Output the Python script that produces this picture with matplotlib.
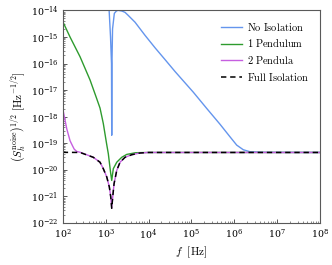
import numpy as np
import matplotlib
matplotlib.use("Agg")
import matplotlib.pyplot as plt
from matplotlib.ticker import LogLocator, NullFormatter

plt.rcParams['mathtext.fontset'] = 'cm'
plt.rcParams['font.family'] = 'serif'

# ---- data ----
f_none = [100, 1000, 1200, 1300, 1370, 1387, 1405, 1450, 1596, 1800, 1977, 2400, 2833,
          3380, 4845, 8280, 1.42e4, 2.43e4, 4.15e4, 1.11e5, 2.27e5, 4.64e5, 7.94e5,
          1.14e6, 1.62e6, 2.32e6, 5e6, 1e8]
s_none = [1e-10, 5e-14, 1.2e-14, 1e-15, 1e-16, 2e-19, 1e-16, 2e-15, 7.7e-15, 9.6e-15, 1e-14,
          9.4e-15, 8.4e-15, 6.4e-15, 3.58e-15, 1.15e-15, 3.9e-16, 1.4e-16, 5.0e-17, 8.3e-18,
          2.05e-18, 5.2e-19, 1.75e-19, 8.5e-20, 5.7e-20, 4.8e-20, 4.55e-20, 4.5e-20]

f_one = [100, 148, 253, 433, 600, 740, 883, 968, 1060, 1156, 1250, 1315, 1387, 1510, 1815,
         2373, 3100, 5000, 1e4, 1e8]
s_one = [3.8e-15, 9.9e-16, 1.8e-16, 2.4e-17, 5.5e-18, 2.1e-18, 5.5e-19, 2.2e-19, 9e-20,
         4.0e-20, 1.4e-20, 7.2e-21, 4e-21, 1.1e-20, 1.93e-20, 2.96e-20, 3.8e-20, 4.4e-20,
         4.5e-20, 4.5e-20]

f_full = [100, 253, 516, 740, 883, 1062, 1219, 1315, 1387, 1465, 1572, 1815, 2168, 2833,
          4055, 6300, 1e4, 1e8]
s_full = [4.55e-20, 4.5e-20, 2.96e-20, 1.93e-20, 1.1e-20, 5.4e-21, 2.28e-21, 9.7e-22,
          3.6e-22, 9.7e-22, 3.0e-21, 9.5e-21, 1.93e-20, 2.96e-20, 3.7e-20, 4.3e-20,
          4.5e-20, 4.5e-20]

f_two = [100, 124, 148, 169, 185, 212, 253, 516, 740, 883, 1062, 1219, 1315, 1387, 1465,
         1572, 1815, 2168, 2833, 4055, 6300, 1e4, 1e8]
s_two = [2.0e-18, 3.5e-19, 1.24e-19, 8e-20, 6e-20, 4.9e-20, 4.6e-20, 2.96e-20, 1.93e-20,
         1.1e-20, 5.4e-21, 2.28e-21, 9.7e-22, 3.6e-22, 9.7e-22, 3.0e-21, 9.5e-21, 1.93e-20,
         2.96e-20, 3.7e-20, 4.3e-20, 4.5e-20, 4.5e-20]

labels = [r'$\mathrm{No\ Isolation}$', r'$\mathrm{1\ Pendulum}$',
          r'$\mathrm{2\ Pendula}$', r'$\mathrm{Full\ Isolation}$']

fig = plt.figure(figsize=(3.32, 2.65), dpi=100)
ax = fig.add_axes([0.189, 0.1585, 0.775, 0.8025])

ax.loglog(f_none, s_none, color='#6495ED', lw=1.0, label=labels[0])
ax.loglog(f_one, s_one, color='#2E9B2E', lw=1.0, label=labels[1])
ax.loglog(f_two, s_two, color='#C65FE0', lw=1.0, label=labels[2])
ax.loglog(f_full, s_full, color='black', lw=1.1, ls=(0, (3.5, 2.5)), label=labels[3])

ax.set_xlim(1e2, 1e8)
ax.set_ylim(1e-22, 1e-14)

ax.xaxis.set_major_locator(LogLocator(base=10, numticks=20))
ax.yaxis.set_major_locator(LogLocator(base=10, numticks=20))
for a in (ax.xaxis, ax.yaxis):
    a.set_minor_locator(LogLocator(base=10, subs=np.arange(2, 10), numticks=100))
    a.set_minor_formatter(NullFormatter())

ax.tick_params(which='both', direction='in', top=False, right=False, color='0.35',
               labelsize=6.8, pad=3)
ax.tick_params(which='major', length=3, width=0.7)
ax.tick_params(which='minor', length=1.6, width=0.5)
for s in ax.spines.values():
    s.set_color('0.35')
    s.set_linewidth(0.8)

ax.set_xlabel(r'$f\ \ [\mathrm{Hz}]$', fontsize=8, labelpad=2)
ax.set_ylabel(r'$\left(S_h^{\rm noise}\right)^{1/2}\ [\mathrm{Hz}^{-1/2}]$', fontsize=8,
              labelpad=2)

ax.legend(loc='upper right', frameon=False, fontsize=7.5, handlelength=2.0,
          handletextpad=0.5, labelspacing=0.45, borderaxespad=0.6)

fig.savefig('out.png', dpi=100)
